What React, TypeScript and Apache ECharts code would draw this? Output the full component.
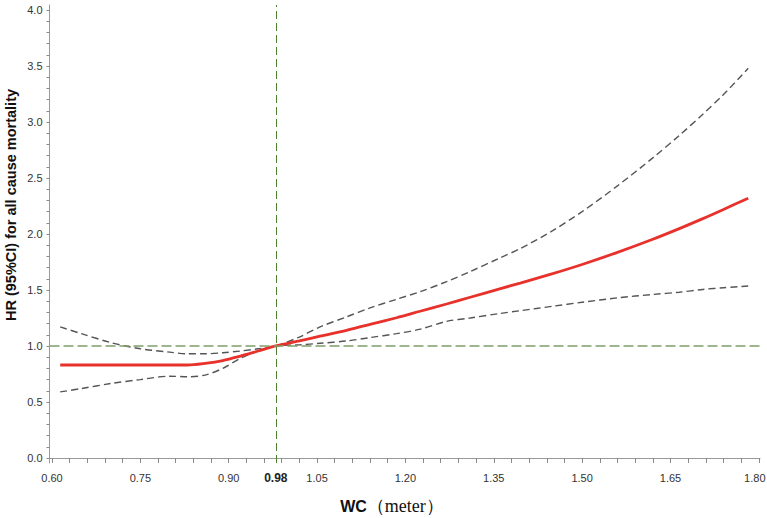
import React, { useEffect, useRef } from "react";
import * as echarts from "echarts";

// Waist circumference (m)
const WC = [0.614, 0.65, 0.7, 0.75, 0.8, 0.83, 0.86, 0.89, 0.92, 0.95, 0.98, 1.02, 1.055, 1.1, 1.14, 1.185, 1.225, 1.27, 1.31, 1.36, 1.395, 1.45, 1.5, 1.56, 1.62, 1.665, 1.705, 1.74, 1.782];
// Hazard ratio
const HR = [0.83, 0.83, 0.83, 0.83, 0.83, 0.83, 0.845, 0.87, 0.91, 0.955, 1.0, 1.045, 1.087, 1.14, 1.192, 1.252, 1.31, 1.375, 1.435, 1.51, 1.562, 1.646, 1.728, 1.836, 1.953, 2.048, 2.137, 2.219, 2.32];
// 95% CI bounds
const LOWER = [0.59, 0.62, 0.665, 0.7, 0.73, 0.725, 0.74, 0.8, 0.89, 0.955, 1.0, 1.01, 1.024, 1.045, 1.075, 1.11, 1.15, 1.22, 1.25, 1.29, 1.315, 1.355, 1.39, 1.43, 1.46, 1.48, 1.505, 1.52, 1.535];
const UPPER = [1.17, 1.11, 1.03, 0.975, 0.945, 0.93, 0.93, 0.94, 0.955, 0.975, 1.0, 1.08, 1.17, 1.26, 1.34, 1.417, 1.485, 1.575, 1.665, 1.785, 1.87, 2.03, 2.2, 2.43, 2.68, 2.88, 3.07, 3.245, 3.48];

const X_LABELS = [0.6, 0.75, 0.9, 0.98, 1.05, 1.2, 1.35, 1.5, 1.65, 1.8];
const Y_LABELS = [0, 0.5, 1.0, 1.5, 2.0, 2.5, 3.0, 3.5, 4.0];
const REF_X = 0.98;
const REF_Y = 1.0;

const X_TICKS: number[] = [];
for (let i = 0; i <= 40; i++) X_TICKS.push(+(0.6 + i * 0.03).toFixed(2));
const Y_TICKS: number[] = [];
for (let i = 0; i <= 40; i++) Y_TICKS.push(+(i * 0.1).toFixed(1));

const pairs = (ys: number[]) => WC.map((x, i) => [x, ys[i]]);

export default function App() {
  const ref = useRef<HTMLDivElement>(null);
  useEffect(() => {
    if (!ref.current) return;
    const chart = echarts.init(ref.current, null, { renderer: "svg" });
    const sans = "Liberation Sans, Arial, Helvetica, sans-serif";
    const lastX = X_LABELS[X_LABELS.length - 1];
    chart.setOption({
      animation: false,
      backgroundColor: "#ffffff",
      grid: { left: 49.5, right: 7, top: 5, bottom: 55, containLabel: false, outerBoundsMode: "none" },
      xAxis: {
        type: "value",
        min: 0.5958,
        max: 1.802,
        axisLine: { show: true, lineStyle: { color: "#9a9a9a", width: 1 } },
        axisTick: { show: true, customValues: X_TICKS, length: 5, lineStyle: { color: "#8a8a8a" } },
        axisLabel: {
          customValues: X_LABELS,
          margin: 9,
          fontSize: 11,
          color: "#333",
          fontFamily: sans,
          formatter: (v: number) => {
            if (Math.abs(v - REF_X) < 1e-6) return "{b|" + v.toFixed(2) + "}";
            if (Math.abs(v - lastX) < 1e-6) return "{r|" + v.toFixed(2) + "}";
            return v.toFixed(2);
          },
          rich: {
            b: { fontWeight: "bold", fontSize: 12, color: "#222", fontFamily: sans },
            r: { fontSize: 11, color: "#333", fontFamily: sans, padding: [0, 8, 0, 0] },
          },
        },
        splitLine: { show: false },
      },
      yAxis: {
        type: "value",
        min: -0.045,
        max: 4.045,
        axisLine: { show: true, lineStyle: { color: "#9a9a9a", width: 1 } },
        axisTick: { show: true, customValues: Y_TICKS, length: 3, lineStyle: { color: "#8a8a8a" } },
        axisLabel: {
          customValues: Y_LABELS,
          margin: 7,
          fontSize: 11,
          color: "#333",
          fontFamily: sans,
          formatter: (v: number) => v.toFixed(1),
        },
        splitLine: { show: false },
      },
      graphic: [
        {
          type: "text",
          x: 11,
          y: 205,
          rotation: Math.PI / 2,
          style: {
            text: "HR (95%CI) for all cause mortality",
            fontSize: 14.5,
            fontWeight: "bold",
            fontFamily: sans,
            fill: "#111",
            align: "center",
            verticalAlign: "middle",
          },
        },
        {
          type: "text",
          x: 392,
          y: 506,
          style: {
            text: "{b|WC}{s|（meter）}",
            align: "center",
            verticalAlign: "middle",
            rich: {
              b: { fontSize: 16, fontWeight: "bold", fontFamily: sans, fill: "#111" },
              s: { fontSize: 18, fontFamily: "Liberation Serif, Times New Roman, serif", fill: "#111" },
            },
          },
        },
      ],
      series: [
        {
          type: "line",
          name: "ref",
          data: [],
          silent: true,
          markLine: {
            silent: true,
            symbol: "none",
            label: { show: false },
            data: [
              { yAxis: REF_Y, lineStyle: { color: "#7f9f6a", width: 1.5, type: [10, 4] } },
              { xAxis: REF_X, lineStyle: { color: "#4f7f30", width: 1, type: [8, 4] } },
            ],
          },
        },
        {
          type: "line",
          name: "Upper",
          data: pairs(UPPER),
          showSymbol: false,
          smooth: 0.3,
          lineStyle: { color: "#555", width: 1.4, type: [7, 4] },
          z: 3,
        },
        {
          type: "line",
          name: "Lower",
          data: pairs(LOWER),
          showSymbol: false,
          smooth: 0.3,
          lineStyle: { color: "#555", width: 1.4, type: [7, 4] },
          z: 3,
        },
        {
          type: "line",
          name: "HR",
          data: pairs(HR),
          showSymbol: false,
          smooth: 0.3,
          lineStyle: { color: "#e8312b", width: 2.8 },
          z: 4,
        },
      ],
    });
    return () => chart.dispose();
  }, []);
  return <div ref={ref} style={{ position: "fixed", left: 0, top: 0, width: 767, height: 518 }} />;
}
